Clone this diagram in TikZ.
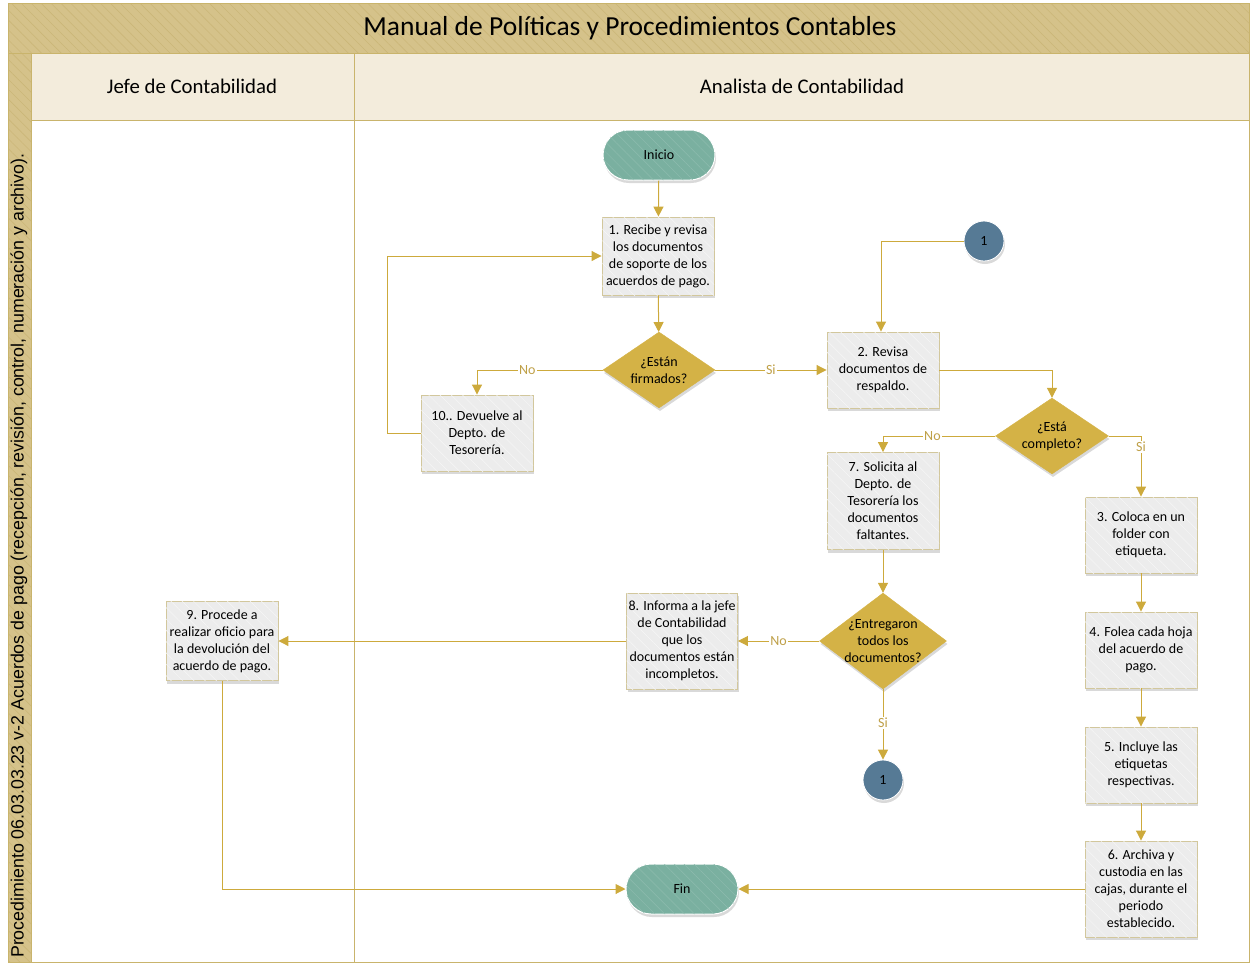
\documentclass[tikz,border=0pt]{standalone}
\usepackage{fontspec}
\setmainfont{Carlito}
\newfontfamily\arialf{Liberation Sans}
\usetikzlibrary{shapes.geometric,arrows.meta,shadows,patterns.meta}
\definecolor{tanfill}{HTML}{D5C28A}
\definecolor{tanstripe}{HTML}{CBB678}
\definecolor{tanline}{HTML}{C9B46C}
\definecolor{headfill}{HTML}{F3ECDC}
\definecolor{gold}{HTML}{CDAA3C}
\definecolor{goldtext}{HTML}{BFA048}
\definecolor{diafill}{HTML}{D4B246}
\definecolor{teal}{HTML}{7AB0A0}
\definecolor{steel}{HTML}{567A95}
\definecolor{boxfill}{HTML}{ECECEC}
\definecolor{boxline}{HTML}{D2C79C}
\begin{document}
\begin{tikzpicture}[x=1pt,y=-1pt,
  hatch/.style={fill=tanfill, postaction={pattern={Lines[angle=-45,distance=7pt,line width=0.6pt]}, pattern color=tanstripe}},
  shd/.style={drop shadow={opacity=0.3,shadow xshift=1pt,shadow yshift=-3pt}},
  box/.style={shd, draw=boxline, line width=0.9pt, fill=boxfill, minimum width=112pt, minimum height=76pt, align=center, inner sep=1pt,
    font=\fontsize{14}{17}\selectfont,
    postaction={pattern={Lines[angle=-45,distance=8pt,line width=0.5pt]}, pattern color=white!55!boxfill}},
  dia/.style={diamond, shd, fill=diafill, draw=diafill, inner sep=0pt, minimum width=112pt, minimum height=76pt},
  dtext/.style={align=center, font=\fontsize{14}{17}\selectfont},
  term/.style={shd, rounded corners=25pt, fill=teal, draw=white, line width=1pt, minimum width=112pt, minimum height=50pt, font=\fontsize{14}{16}\selectfont,
    postaction={pattern={Lines[angle=-45,distance=7pt,line width=0.5pt]}, pattern color=teal!85!white}},
  conn/.style={circle, shd, fill=steel, draw=white, line width=0.8pt, minimum size=40pt, inner sep=0pt, font=\fontsize{14}{16}\selectfont},
  flow/.style={draw=gold, line width=1pt, -{Triangle[length=10pt,width=10pt]}},
  lbl/.style={fill=white, inner sep=1pt, text=goldtext, font=\fontsize{14}{15}\selectfont}
]
\useasboundingbox (0,0) rectangle (1251,962);
% frame
\path[hatch] (8,3) rectangle (1249,53);
\path[hatch] (8,53) rectangle (31,962);
\path[fill=headfill] (31,53) rectangle (1249,120);
\draw[tanline, line width=1pt] (8,3) rectangle (1249,962);
\draw[tanline, line width=1pt] (8,53) -- (1249,53);
\draw[tanline, line width=1pt] (31,53) -- (31,962);
\draw[tanline, line width=1pt] (31,120) -- (1249,120);
\draw[tanline, line width=1pt] (354,53) -- (354,962);
\node[font=\fontsize{27.5}{30}\selectfont] (title) at (630,28) {Manual de Políticas y Procedimientos Contables};
\node[font=\fontsize{20.8}{24}\selectfont] (lane1) at (192,86) {Jefe de Contabilidad};
\node[font=\fontsize{20.8}{24}\selectfont] (lane2) at (802,86) {Analista de Contabilidad};
\node[rotate=90, anchor=west, inner sep=0pt, font=\arialf\fontsize{17.8}{20}\selectfont] (proc) at (19,958) {Procedimiento 06.03.03.23 v-2 Acuerdos de pago (recepción, revisión, control, numeración y archivo).};
% nodes
\node[term] (ini) at (659,155) {Inicio};
\node[box, minimum height=78pt] (b1) at (658,256) {1. Recibe y revisa\\los documentos\\de soporte de los\\acuerdos de pago.};
\node[dia, label={[dtext]center:¿Están\\firmados?}] (d1) at (659,370) {};
\node[box] (b10) at (477,433) {10.. Devuelve al\\Depto. de\\Tesorería.};
\node[conn] (c1a) at (984,241) {1};
\node[box] (b2) at (883,370) {2. Revisa\\documentos de\\respaldo.};
\node[dia, minimum width=113pt, label={[dtext]center:¿Está\\completo?}] (d2) at (1052,436) {};
\node[box, minimum height=97pt] (b7) at (883,501) {7. Solicita al\\Depto. de\\Tesorería los\\documentos\\faltantes.};
\node[box] (b3) at (1141,535) {3. Coloca en un\\folder con\\etiqueta.};
\node[box] (b4) at (1141,650) {4. Folea cada hoja\\del acuerdo de\\pago.};
\node[box] (b5) at (1141,765) {5. Incluye las\\etiquetas\\respectivas.};
\node[box, minimum height=96pt] (b6) at (1141,889) {6. Archiva y\\custodia en las\\cajas, durante el\\periodo\\establecido.};
\node[dia, minimum width=127pt, minimum height=96pt, label={[dtext]center:¿Entregaron\\todos los\\documentos?}] (d3) at (883,641) {};
\node[box, minimum width=111pt, minimum height=96pt] (b8) at (682,641) {8. Informa a la jefe\\de Contabilidad\\que los\\documentos están\\incompletos.};
\node[box, minimum height=79pt] (b9) at (222,641) {9. Procede a\\realizar oficio para\\la devolución del\\acuerdo de pago.};
\node[conn] (c1b) at (883,780) {1};
\node[term] (fin) at (682,889) {Fin};
% connectors
\draw[flow] (ini) -- (b1);
\draw[flow] (b1) -- (d1);
\draw[flow] (d1) -- node[lbl]{Si} (b2);
\draw[flow] (d1.west) -| node[lbl, pos=0.3]{No} (b10.north);
\draw[flow] (b10.west) -- ++(-33,0) |- (b1.west);
\draw[flow] (c1a.west) -| ([xshift=-2pt]b2.north);
\draw[flow] (b2.east) -| (d2.north);
\draw[flow] (d2.west) -| node[lbl, pos=0.28]{No} (b7.north);
\draw[flow] (d2.east) -| node[lbl, pos=0.59]{Si} (b3.north);
\draw[flow] (b3) -- (b4);
\draw[flow] (b4) -- (b5);
\draw[flow] (b5) -- (b6);
\draw[flow] (b7) -- (d3);
\draw[flow] (d3) -- node[lbl]{No} (b8);
\draw[flow] (d3) -- node[lbl, pos=0.48]{Si} (c1b);
\draw[flow] (b8) -- (b9);
\draw[flow] (b9.south) |- (fin.west);
\draw[flow] (b6.west) -- (fin.east);
\end{tikzpicture}
\end{document}
